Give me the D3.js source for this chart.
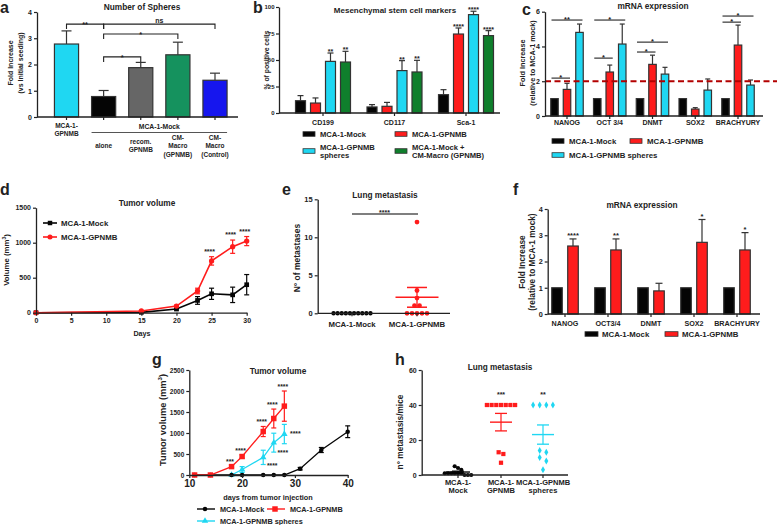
<!DOCTYPE html>
<html><head><meta charset="utf-8">
<script src="https://cdn.jsdelivr.net/npm/d3@7"></script>
<style>body{margin:0;background:#fff}svg{display:block}</style>
</head><body><script>
// ================= DATA =================
// Panel a – Number of Spheres
const aGroups = ["MCA-1-GPNMB","alone","recom. GPNMB","CM-Macro (GPNMB)","CM-Macro (Control)"];
const aLabelLines = [["MCA-1-","GPNMB"],["alone"],["recom.","GPNMB"],["CM-","Macro","(GPNMB)"],["CM-","Macro","(Control)"]];
const aValues = [2.78, 0.78, 1.88, 2.37, 1.40];
const aErrors = [0.50, 0.23, 0.20, 0.48, 0.27];
const aBrackets = [
  {from:0,to:1,level:3.54,label:"**"},
  {from:1,to:4,level:3.54,label:"ns"},
  {from:1,to:3,level:3.16,label:"*"},
  {from:1,to:2,level:2.29,label:"*"}];

// Panel b – Mesenchymal stem cell markers
const bMarkers = ["CD199","CD117","Sca-1"];
const bSeries = ["MCA-1-Mock","MCA-1-GPNMB","MCA-1-GPNMB spheres","MCA-1-Mock + CM-Macro (GPNMB)"];
const bMock = [11.6, 5.7, 17.3],   bMockErr = [4.8, 2.2, 4.7];
const bGpnmb = [9.4, 6.3, 74.5],   bGpnmbErr = [4.8, 3.7, 5.7];
const bSpheres = [48.7, 40.0, 92.8], bSpheresErr = [7.9, 9.4, 3.2];
const bCm = [48.1, 38.7, 73.0],    bCmErr = [10.1, 11.0, 4.7];
const bStars = [["","",""],["","","****"],["**","**","****"],["**","**","****"]];

// Panel c – mRNA expression (spheres)
const cGenes = ["NANOG","OCT 3/4","DNMT","SOX2","BRACHYURY"];
const cSeries = ["MCA-1-Mock","MCA-1-GPNMB","MCA-1-GPNMB spheres"];
const cMock = [1,1,1,1,1];
const cGpnmb = [1.53, 2.53, 2.97, 0.40, 4.08],   cGpnmbErr = [0.35, 0.40, 0.53, 0.08, 1.15];
const cSpheres = [4.81, 4.14, 2.41, 1.49, 1.78], cSpheresErr = [0.48, 1.15, 0.39, 0.64, 0.29];
const cThreshold = 2;
const cBrackets = [
  {gene:0,to:1,level:2.18,label:"*"},{gene:0,to:2,level:5.52,label:"**"},
  {gene:1,to:1,level:3.33,label:"*"},{gene:1,to:2,level:5.52,label:"*"},
  {gene:2,to:1,level:3.68,label:"*"},{gene:2,to:2,level:4.25,label:"*"},
  {gene:4,to:1,level:5.40,label:"*"},{gene:4,to:2,level:5.75,label:"*"}];

// Panel d – Tumor volume
const dDays = [0,15,20,23,25,28,30];
const dMock = [0,5,52,175,270,255,400],      dMockErr = [0,4,12,55,80,110,145];
const dGpnmb = [0,24,95,310,740,943,1023],   dGpnmbErr = [0,6,12,40,60,95,65];
const dStars = ["","","","","****","****","****"];

// Panel e – Lung metastasis
const eGroups = ["MCA-1-Mock","MCA-1-GPNMB"];
const eMock = [0,0,0,0,0,0,0,0,0,0];
const eGpnmb = [12,3,2,1,1,0,0,0,0,0];
const eGpnmbMean = 2.1, eGpnmbSem = 1.3;

// Panel f – mRNA expression
const fGenes = ["NANOG","OCT3/4","DNMT","SOX2","BRACHYURY"];
const fMock = [1,1,1,1,1];
const fGpnmb = [2.59, 2.44, 0.88, 2.73, 2.44], fGpnmbErr = [0.27, 0.42, 0.29, 0.87, 0.66];
const fStars = ["****","**","","*","*"];

// Panel g – Tumor volume
const gDaysMock = [11,14,18,20,24,26,28,31,35,40];
const gMock = [0,0,0,0,0,0,0,150,595,1030],    gMockErr = [0,0,0,0,0,0,0,30,60,140];
const gDaysGpnmb = [11,14,18,20,24,26,28];
const gGpnmb = [0,0,200,440,1035,1345,1640],   gGpnmbErr = [0,0,20,40,120,225,360];
const gGpnmbStars = ["","","***","****","****","****","****"];
const gDaysSpheres = [18,20,24,26,28];
const gSpheres = [0,130,420,770,975],          gSpheresErr = [0,70,170,225,230];
const gSpheresStars = ["","","****","****","****"];

// Panel h – Lung metastasis
const hGroups = [["MCA-1-","Mock"],["MCA-1-","GPNMB"],["MCA-1-GPNMB","spheres"]];
const hMock = [5,4,3,1,1,1,1,1,1,0,0,0];
const hGpnmb = [40,40,40,40,40,40,40,13,12,7];
const hSpheres = [40,40,40,40,14,13,10,8,3];
const hMean = [1.7, 30.2, 23.1], hSem = [0.5, 5.0, 5.5];
const hStars = ["","***","**"];

// ================= STYLE / HELPERS =================
const INK = "#222", EDGE = "#333";
const BLACK = "#050505", RED = "#ff1c1c", CYAN = "#1fd7f2", GRAY = "#666666",
      GREEN_A = "#15925e", GREEN_B = "#0f7f2c", BLUE = "#1616ee", DKRED = "#b30000";
const FONT = '"Liberation Sans", Arial, Helvetica, sans-serif';
const S = d3.select("body").append("svg").attr("width",777).attr("height",525);

function T(x,y,s,fs,o={}){
  const t = S.append("text").attr("x",x).attr("y",y).attr("font-size",fs)
    .attr("text-anchor",o.anchor||"middle").attr("font-weight",o.weight||"bold")
    .attr("fill",o.fill||INK).attr("font-family",FONT).text(s);
  if(o.rot) t.attr("transform",`rotate(-90 ${x} ${y})`);
  return t;
}
function Tsup(x,y,pre,sup,post,fs,o={}){
  const t = T(x,y,"",fs,o);
  t.append("tspan").text(pre);
  t.append("tspan").attr("font-size",fs*0.65).attr("dy",-fs*0.4).text(sup);
  t.append("tspan").attr("dy",fs*0.4).text(post);
  return t;
}
function L(x1,y1,x2,y2,o={}){
  return S.append("line").attr("x1",x1).attr("y1",y1).attr("x2",x2).attr("y2",y2)
    .attr("stroke",o.stroke||INK).attr("stroke-width",o.w||1.2)
    .attr("stroke-dasharray",o.dash||null);
}
function styleAx(g,fs){
  g.attr("font-family",FONT).attr("font-size",fs).attr("font-weight","bold");
  g.select(".domain").attr("stroke",INK).attr("stroke-width",1.3);
  g.selectAll(".tick line").attr("stroke",INK).attr("stroke-width",1.2);
  g.selectAll(".tick text").attr("fill",INK);
}
function yAx(scale,x,ticks,fs,pad){
  const g = S.append("g").attr("transform",`translate(${x},0)`)
    .call(d3.axisLeft(scale).tickValues(ticks).tickSize(3).tickSizeOuter(0).tickPadding(pad||2).tickFormat(d=>d));
  styleAx(g,fs); return g;
}
function xAxNum(scale,y,ticks,fs){
  const g = S.append("g").attr("transform",`translate(0,${y})`)
    .call(d3.axisBottom(scale).tickValues(ticks).tickSize(3).tickSizeOuter(0).tickPadding(2).tickFormat(d=>d));
  styleAx(g,fs); return g;
}
function catXAx(centers,y,x0,x1){
  L(x0,y,x1,y,{w:1.3});
  centers.forEach(c=>L(c,y,c,y+3));
}
function band(domain,c0,cN,pad){
  const n = domain.length, step = (cN-c0)/(n-1);
  return d3.scaleBand().domain(domain).range([c0-step/2,cN+step/2]).paddingInner(pad).paddingOuter(pad/2);
}
function errUp(cx,yTop,yCap,cap,col){
  L(cx,yTop,cx,yCap,{stroke:col||EDGE,w:1.2});
  L(cx-cap/2,yCap,cx+cap/2,yCap,{stroke:col||EDGE,w:1.2});
}
function barRect(x,w,yTop,yBase,fill){
  S.append("rect").attr("x",x).attr("y",yTop).attr("width",w).attr("height",Math.max(0,yBase-yTop))
    .attr("fill",fill).attr("stroke",EDGE).attr("stroke-width",1.2);
}
function multiLine(x,yCenter,lines,fs,lh){
  lines.forEach((s,i)=>T(x,yCenter+(i-(lines.length-1)/2)*lh+fs*0.35,s,fs));
}
function swarm(vals,yScale,cx,spacing,thresh){
  const pts = vals.map(v=>({v,y:yScale(v)})).sort((a,b)=>a.y-b.y);
  const clusters=[]; let cur=null;
  pts.forEach(p=>{ if(cur && p.y-cur[0].y<thresh) cur.push(p); else {cur=[p]; clusters.push(cur);} });
  clusters.forEach(c=>c.forEach((p,i)=>p.x=cx+(i-(c.length-1)/2)*spacing));
  return pts;
}
function marker(type,size,x,y,fill){
  S.append("path").attr("d",d3.symbol().type(type).size(size)()).attr("transform",`translate(${x},${y})`).attr("fill",fill);
}

// panel letters
[["a",0,13],["b",253,13],["c",522,15],["d",0,195],["e",282,195],["f",513,195],["g",152,365],["h",395,365]]
  .forEach(([s,x,y])=>T(x,y,s,16,{anchor:"start"}));

// ================= PANEL a =================
(function(){
  const y = d3.scaleLinear().domain([0,4]).range([117,12]);
  const x = band(aGroups,66.5,215,0.35), bw = x.bandwidth();
  const colors = [CYAN,BLACK,GRAY,GREEN_A,BLUE];
  aGroups.forEach((g,i)=>{
    const cx = x(g)+bw/2;
    errUp(cx,y(aValues[i]),y(aValues[i]+aErrors[i]),10);
    barRect(x(g),bw,y(aValues[i]),y(0),colors[i]);
  });
  yAx(y,37,[0,1,2,3,4],7);
  const centers = aGroups.map(g=>x(g)+bw/2);
  catXAx(centers,117,37,238);
  T(142,10,"Number of Spheres",8.3);
  T(12.5,63,"Fold Increase",7,{rot:true});
  T(22.5,63,"(vs Initial seeding)",7,{rot:true});
  aBrackets.forEach(b=>{
    const x1=centers[b.from], x2=centers[b.to], yy=y(b.level);
    S.append("path").attr("d",`M${x1},${yy+5}V${yy}H${x2}V${yy+5}`).attr("fill","none").attr("stroke",INK).attr("stroke-width",1.1);
    if(b.label==="ns") T((x1+x2)/2,yy-1.5,"ns",7);
    else T((x1+x2)/2,yy+2.8,b.label,7.5);
  });
  multiLine(centers[0],129.5,aLabelLines[0],6.5,7.5);
  T((centers[1]+centers[4])/2,128.5,"MCA-1-Mock",6.8);
  L(x(aGroups[1]),132.5,x(aGroups[4])+bw,132.5,{stroke:"#555",w:1.2});
  for(let i=1;i<5;i++) multiLine(centers[i],146,aLabelLines[i],6.5,8.3);
})();

// ================= PANEL b =================
(function(){
  const y = d3.scaleLinear().domain([0,100]).range([113,7]);
  const x = band(bMarkers,323,466,0.161);
  const xi = d3.scaleBand().domain(bSeries).range([0,x.bandwidth()]).paddingInner(0.333).paddingOuter(0.1667);
  const bw = xi.bandwidth();
  const vals = [bMock,bGpnmb,bSpheres,bCm], errs = [bMockErr,bGpnmbErr,bSpheresErr,bCmErr];
  const colors = [BLACK,RED,CYAN,GREEN_B];
  bMarkers.forEach((m,j)=>{
    bSeries.forEach((s,i)=>{
      const bx = x(m)+xi(s), cx = bx+bw/2, v = vals[i][j], e = errs[i][j];
      errUp(cx,y(v),y(v+e),6);
      barRect(bx,bw,y(v),y(0),colors[i]);
      if(bStars[i][j]) T(cx,y(v+e)+1,bStars[i][j],7);
    });
  });
  yAx(y,279,[0,25,50,75,100],6,1.5);
  const centers = bMarkers.map(m=>x(m)+x.bandwidth()/2);
  catXAx(centers,113,279,500);
  bMarkers.forEach((m,j)=>T(centers[j],125,m,7));
  T(395,13,"Mesenchymal stem cell markers",8);
  T(268.5,60,"% of positive cells",6.8,{rot:true});
  const lg = [[303,134,[bSeries[0]]],[303,151,["MCA-1-GPNMB","spheres"]],[395,134,[bSeries[1]]],[395,151,["MCA-1-Mock +","CM-Macro (GPNMB)"]]];
  lg.forEach(([lx,ly,lines],i)=>{
    S.append("rect").attr("x",lx).attr("y",ly-2.3).attr("width",12).attr("height",4.6).attr("fill",colors[[0,2,1,3][i]]).attr("stroke",EDGE).attr("stroke-width",0.8);
    lines.forEach((s,k)=>T(lx+17,ly+(k-(lines.length-1)/2)*8.3+2.8,s,7.6,{anchor:"start"}));
  });
})();

// ================= PANEL c =================
(function(){
  const y = d3.scaleLinear().domain([0,6]).range([116,11.7]);
  const x = band(cGenes,567,738,0.123);
  const xi = d3.scaleBand().domain(cSeries).range([0,x.bandwidth()]).paddingInner(0.4).paddingOuter(0.2);
  const bw = xi.bandwidth();
  const vals = [cMock,cGpnmb,cSpheres], errs = [null,cGpnmbErr,cSpheresErr];
  const colors = [BLACK,RED,CYAN];
  cGenes.forEach((g,j)=>{
    cSeries.forEach((s,i)=>{
      const bx = x(g)+xi(s), cx = bx+bw/2, v = vals[i][j];
      if(errs[i]) errUp(cx,y(v),y(v+errs[i][j]),5);
      barRect(bx,bw,y(v),y(0),colors[i]);
    });
  });
  L(545,y(cThreshold),777,y(cThreshold),{stroke:DKRED,w:2,dash:"6,3.5"});
  yAx(y,545,[0,2,4,6],7);
  const centers = cGenes.map(g=>x(g)+x.bandwidth()/2);
  catXAx(centers,116,545,763);
  cGenes.forEach((g,j)=>T(centers[j],125,g,7));
  cBrackets.forEach(b=>{
    const x1 = x(cGenes[b.gene])+xi(cSeries[0])+bw/2-3;
    const x2 = x(cGenes[b.gene])+xi(cSeries[b.to])+bw/2+3;
    const yy = y(b.level);
    L(x1,yy,x2,yy,{w:1.1});
    T((x1+x2)/2,yy+2.3,b.label,7.5);
  });
  T(653,9,"mRNA expression",8.3);
  T(524.5,63,"Fold Increase",7.3,{rot:true});
  T(534.5,63,"(relative to MCA-1 mock)",7.3,{rot:true});
  const lg = [[552,141,0],[630,141,1],[552,155,2]];
  lg.forEach(([lx,ly,i])=>{
    S.append("rect").attr("x",lx).attr("y",ly-2.3).attr("width",12).attr("height",4.6).attr("fill",colors[i]).attr("stroke",EDGE).attr("stroke-width",0.8);
    T(lx+17,ly+2.8,cSeries[i],7.8,{anchor:"start"});
  });
})();

// ================= PANEL d =================
(function(){
  const x = d3.scaleLinear().domain([0,30]).range([36,246.7]);
  const y = d3.scaleLinear().domain([0,1500]).range([312.7,207.7]);
  const line = d3.line().x(d=>x(d[0])).y(d=>y(d[1]));
  const series = [[dMock,dMockErr,BLACK,d3.symbolSquare,22],[dGpnmb,dGpnmbErr,RED,d3.symbolCircle,22]];
  series.forEach(([v,e,col,sym,sz])=>{
    S.append("path").attr("d",line(dDays.map((d,i)=>[d,v[i]]))).attr("fill","none").attr("stroke",col).attr("stroke-width",1.6);
    dDays.forEach((d,i)=>{
      if(e[i]>0){
        L(x(d),y(v[i]-e[i]),x(d),y(v[i]+e[i]),{stroke:col,w:1.2});
        L(x(d)-2.5,y(v[i]-e[i]),x(d)+2.5,y(v[i]-e[i]),{stroke:col,w:1.2});
        L(x(d)-2.5,y(v[i]+e[i]),x(d)+2.5,y(v[i]+e[i]),{stroke:col,w:1.2});
      }
      marker(sym,sz,x(d),y(v[i]),col);
    });
  });
  dDays.forEach((d,i)=>{ if(dStars[i]) T(x(d)-2,y(dGpnmb[i]+dGpnmbErr[i])-3,dStars[i],7); });
  xAxNum(x,312.7,[0,5,10,15,20,25,30],7);
  yAx(y,36,[0,500,1000,1500],7);
  T(147,206,"Tumor volume",8.3);
  T(142,336,"Days",7.2);
  Tsup(9,260,"Volume (mm","3",")",7.8,{rot:true});
  [[223,BLACK,d3.symbolSquare,"MCA-1-Mock"],[237,RED,d3.symbolCircle,"MCA-1-GPNMB"]].forEach(([ly,col,sym,s])=>{
    L(43,ly,57,ly,{stroke:col,w:1.6}); marker(sym,20,50,ly,col);
    T(61,ly+2.8,s,7.8,{anchor:"start"});
  });
})();

// ================= PANEL e =================
(function(){
  const y = d3.scaleLinear().domain([0,15]).range([313.3,199.3]);
  const centers = [352,417];
  const pm = swarm(eMock,y,centers[0],4.1,4.4);
  const pg = swarm(eGpnmb,y,centers[1],5,4.8);
  const m = y(eGpnmbMean), hi = y(eGpnmbMean+eGpnmbSem), lo = y(eGpnmbMean-eGpnmbSem);
  L(centers[1]-21.5,m,centers[1]+21.5,m,{stroke:RED,w:1.5});
  L(centers[1],hi,centers[1],lo,{stroke:RED,w:1.3});
  L(centers[1]-10,hi,centers[1]+10,hi,{stroke:RED,w:1.5});
  L(centers[1]-10,lo,centers[1]+10,lo,{stroke:RED,w:1.5});
  pm.forEach(p=>S.append("circle").attr("cx",p.x).attr("cy",p.y).attr("r",2.2).attr("fill",BLACK));
  pg.forEach(p=>S.append("circle").attr("cx",p.x).attr("cy",p.y).attr("r",2.4).attr("fill",RED));
  yAx(y,317.7,[0,5,10,15],7.5);
  catXAx(centers,313.3,317.7,450);
  eGroups.forEach((g,i)=>T(centers[i],327,g,7.8));
  L(centers[0],214,centers[1]+1,214,{stroke:"#555",w:1.3});
  T((centers[0]+centers[1])/2,215,"****",7);
  T(385,197.7,"Lung metastasis",8.3);
  T(300,258,"N° of metastases",8.5,{rot:true});
})();

// ================= PANEL f =================
(function(){
  const y = d3.scaleLinear().domain([0,4]).range([314,209]);
  const x = band(fGenes,565,737,0.256);
  const ser = ["MCA-1-Mock","MCA-1-GPNMB"];
  const xi = d3.scaleBand().domain(ser).range([0,x.bandwidth()]).paddingInner(0.34).paddingOuter(0.17);
  const bw = xi.bandwidth();
  fGenes.forEach((g,j)=>{
    const b0 = x(g)+xi(ser[0]), b1 = x(g)+xi(ser[1]);
    barRect(b0,bw,y(fMock[j]),y(0),BLACK);
    errUp(b1+bw/2,y(fGpnmb[j]),y(fGpnmb[j]+fGpnmbErr[j]),7);
    barRect(b1,bw,y(fGpnmb[j]),y(0),RED);
    if(fStars[j]) T(b1+bw/2,y(fGpnmb[j]+fGpnmbErr[j])-0.5,fStars[j],7.5);
  });
  yAx(y,547.7,[0,1,2,3,4],7.3);
  const centers = fGenes.map(g=>x(g)+x.bandwidth()/2);
  catXAx(centers,314,547.7,760);
  fGenes.forEach((g,j)=>T(centers[j],325.5,g,7.2));
  T(642,208,"mRNA expression",8.3);
  T(525,262,"Fold Increase",8.3,{rot:true});
  T(535,262,"(relative to MCA-1 mock)",8.3,{rot:true});
  [[585,BLACK,ser[0]],[665,RED,ser[1]]].forEach(([lx,col,s])=>{
    S.append("rect").attr("x",lx).attr("y",331.7).attr("width",13).attr("height",4.6).attr("fill",col).attr("stroke",EDGE).attr("stroke-width",0.8);
    T(lx+17,337,s,7.8,{anchor:"start"});
  });
})();

// ================= PANEL g =================
(function(){
  const x = d3.scaleLinear().domain([10,40]).range([189.3,347.7]);
  const y = d3.scaleLinear().domain([0,2500]).range([475,370]);
  const line = d3.line().x(d=>x(d[0])).y(d=>y(d[1]));
  const series = [
    [gDaysSpheres,gSpheres,gSpheresErr,CYAN,d3.symbolTriangle,18],
    [gDaysMock,gMock,gMockErr,BLACK,d3.symbolCircle,16],
    [gDaysGpnmb,gGpnmb,gGpnmbErr,RED,d3.symbolSquare,30]];
  series.forEach(([days,v,e,col,sym,sz])=>{
    S.append("path").attr("d",line(days.map((d,i)=>[d,v[i]]))).attr("fill","none").attr("stroke",col).attr("stroke-width",1.3);
    days.forEach((d,i)=>{
      if(e[i]>0){
        L(x(d),y(v[i]-e[i]),x(d),y(v[i]+e[i]),{stroke:col,w:1.2});
        L(x(d)-2.5,y(v[i]-e[i]),x(d)+2.5,y(v[i]-e[i]),{stroke:col,w:1.2});
        L(x(d)-2.5,y(v[i]+e[i]),x(d)+2.5,y(v[i]+e[i]),{stroke:col,w:1.2});
      }
      marker(sym,sz,x(d),y(v[i]),col);
    });
  });
  gDaysGpnmb.forEach((d,i)=>{ if(gGpnmbStars[i]) T(x(d)-1.5,y(gGpnmb[i]+gGpnmbErr[i])-2,gGpnmbStars[i],6.8); });
  gDaysSpheres.forEach((d,i)=>{
    if(!gSpheresStars[i]) return;
    const last = i===gDaysSpheres.length-1;
    const yy = last ? y(gSpheres[i])+2 : y(gSpheres[i]-gSpheresErr[i])+3;
    T(x(d)+(last?11:9),yy,gSpheresStars[i],6.8);
  });
  xAxNum(x,475,[10,20,30,40],10);
  yAx(y,189.3,[0,500,1000,1500,2000,2500],6.5);
  T(278,374,"Tumor volume",8.3);
  T(268,500,"days from tumor injection",7.3);
  Tsup(165.5,420,"Tumor volume (mm","3",")",9.3,{rot:true});
  const lg = [[197,509,BLACK,d3.symbolCircle,16,"MCA-1-Mock"],[267,509,RED,d3.symbolSquare,30,"MCA-1-GPNMB"],[197,521,CYAN,d3.symbolTriangle,18,"MCA-1-GPNMB spheres"]];
  lg.forEach(([lx,ly,col,sym,sz,s])=>{
    L(lx,ly,lx+18,ly,{stroke:col,w:1.4}); marker(sym,sz,lx+8,ly,col);
    T(lx+23,ly+2.6,s,7.3,{anchor:"start"});
  });
})();

// ================= PANEL h =================
(function(){
  const y = d3.scaleLinear().domain([0,60]).range([475,370]);
  const centers = [458,501,543];
  const sets = [[hMock,BLACK,d3.symbolCircle,14,3.3],[hGpnmb,RED,d3.symbolSquare,18,4.7],[hSpheres,CYAN,d3.symbolDiamond,14,6.6]];
  sets.forEach(([vals,col,sym,sz,sp],i)=>{
    const m = y(hMean[i]), hi = y(hMean[i]+hSem[i]), lo = y(hMean[i]-hSem[i]);
    const half = i===0 ? 12 : 11;
    L(centers[i]-half,m,centers[i]+half,m,{stroke:col,w:1.4});
    L(centers[i],hi,centers[i],lo,{stroke:col,w:1.2});
    L(centers[i]-6,hi,centers[i]+6,hi,{stroke:col,w:1.3});
    L(centers[i]-6,lo,centers[i]+6,lo,{stroke:col,w:1.3});
    swarm(vals,y,centers[i],sp,4.5).forEach(p=>marker(sym,sz,p.x,p.y,col));
    if(hStars[i]) T(centers[i],397,hStars[i],7);
  });
  yAx(y,421.7,[0,20,40,60],7);
  catXAx(centers,475,421.7,568);
  hGroups.forEach((g,i)=>g.forEach((s,k)=>T(centers[i],484.5+k*8.5,s,7.5)));
  T(500,370,"Lung metastasis",8.2);
  T(403,432,"n° metastasis/mice",8.3,{rot:true});
})();
</script></body></html>
